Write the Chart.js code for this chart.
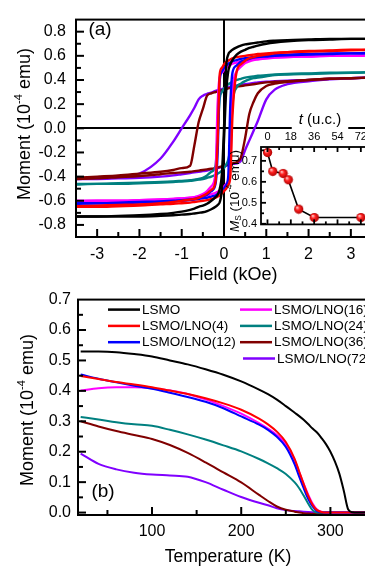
<!DOCTYPE html>
<html>
<head>
<meta charset="utf-8">
<script src="https://cdn.jsdelivr.net/npm/chart.js@4.4.0/dist/chart.umd.min.js"></script>
<style>
  html, body { margin: 0; padding: 0; background: #fff; overflow: hidden; }
  #wrap { position: relative; width: 365px; height: 567px; overflow: hidden; background: #fff; }
  canvas { position: absolute; }
  #chartA { left: 0; top: 0; }
  #chartB { left: 0; top: 283px; }
  #inset { left: 225px; top: 105px; }
</style>
</head>
<body>
<div id="wrap">
  <canvas id="chartA" width="380" height="285"></canvas>
  <canvas id="chartB" width="385" height="284"></canvas>
  <canvas id="inset" width="160" height="130"></canvas>
</div>
<script>
const FONT = '"Liberation Sans", Arial, sans-serif';

const sampleNames = ['LSMO', 'LSMO/LNO(4)', 'LSMO/LNO(12)', 'LSMO/LNO(16)', 'LSMO/LNO(24)', 'LSMO/LNO(36)', 'LSMO/LNO(72)'];
const sampleColors = ['#000000', '#ff0000', '#0000ff', '#ff00ff', '#008080', '#800000', '#8000ff'];

// (a) hysteresis loops, field in kOe, moment in 10^-4 emu
const fieldKOe = [-3.5, -3, -2.5, -2, -1.5, -1.2, -1, -0.8, -0.7, -0.6,
  -0.5, -0.4, -0.3, -0.2, -0.15, -0.1, -0.05, 0,
  0.05, 0.1, 0.15, 0.2, 0.3, 0.4, 0.5, 0.6, 0.7, 0.8,
  1, 1.2, 1.5, 2, 2.5, 3, 3.5];

const lsmoDown = [-0.73, -0.73, -0.725, -0.72, -0.71, -0.70, -0.69, -0.675, -0.665, -0.65,
  -0.64, -0.625, -0.60, -0.57, -0.55, -0.50, -0.38, 0.0,
  0.50, 0.61, 0.635, 0.65, 0.67, 0.685, 0.695, 0.70, 0.705, 0.71,
  0.72, 0.725, 0.73, 0.735, 0.74, 0.74, 0.74];
const lsmoUp = [-0.73, -0.73, -0.73, -0.73, -0.725, -0.72, -0.715, -0.71, -0.705, -0.70,
  -0.695, -0.685, -0.67, -0.65, -0.635, -0.61, -0.50, -0.10,
  0.30, 0.47, 0.53, 0.565, 0.61, 0.635, 0.65, 0.665, 0.675, 0.685,
  0.70, 0.71, 0.72, 0.73, 0.735, 0.74, 0.74];

const lno4Down = [-0.645, -0.64, -0.635, -0.63, -0.62, -0.61, -0.60, -0.59, -0.585, -0.575,
  -0.56, -0.54, -0.51, -0.44, -0.10, 0.45, 0.50, 0.53,
  0.55, 0.56, 0.57, 0.58, 0.59, 0.595, 0.60, 0.605, 0.61, 0.615,
  0.62, 0.625, 0.63, 0.635, 0.64, 0.645, 0.65];
const lno4Up = [-0.65, -0.65, -0.645, -0.64, -0.63, -0.625, -0.62, -0.615, -0.61, -0.605,
  -0.60, -0.595, -0.585, -0.575, -0.565, -0.555, -0.54, -0.52,
  -0.50, -0.47, -0.40, 0.10, 0.47, 0.53, 0.56, 0.58, 0.59, 0.60,
  0.61, 0.62, 0.63, 0.64, 0.645, 0.65, 0.65];

const lno12Down = [-0.62, -0.62, -0.615, -0.61, -0.605, -0.60, -0.595, -0.59, -0.585, -0.575,
  -0.565, -0.55, -0.52, -0.46, -0.20, 0.40, 0.47, 0.50,
  0.52, 0.535, 0.545, 0.555, 0.565, 0.575, 0.58, 0.585, 0.59, 0.595,
  0.60, 0.605, 0.61, 0.615, 0.62, 0.62, 0.625];
const lno12Up = [-0.625, -0.62, -0.62, -0.615, -0.61, -0.605, -0.60, -0.595, -0.59, -0.585,
  -0.58, -0.575, -0.565, -0.555, -0.545, -0.535, -0.52, -0.50,
  -0.47, -0.40, 0.20, 0.46, 0.52, 0.55, 0.565, 0.575, 0.585, 0.59,
  0.595, 0.60, 0.605, 0.61, 0.615, 0.62, 0.62];

const lno16Down = [-0.60, -0.60, -0.60, -0.595, -0.59, -0.585, -0.58, -0.575, -0.57, -0.56,
  -0.545, -0.52, -0.48, -0.37, 0.20, 0.43, 0.46, 0.48,
  0.50, 0.515, 0.525, 0.535, 0.545, 0.555, 0.56, 0.565, 0.57, 0.575,
  0.58, 0.585, 0.59, 0.595, 0.60, 0.60, 0.605];
const lno16Up = [-0.605, -0.60, -0.60, -0.595, -0.59, -0.585, -0.58, -0.575, -0.57, -0.565,
  -0.56, -0.555, -0.545, -0.535, -0.525, -0.515, -0.50, -0.48,
  -0.46, -0.43, -0.30, 0.30, 0.47, 0.51, 0.54, 0.555, 0.565, 0.57,
  0.58, 0.585, 0.59, 0.595, 0.60, 0.60, 0.605];

const lno24Down = [-0.46, -0.46, -0.455, -0.45, -0.445, -0.44, -0.435, -0.43, -0.425, -0.42,
  -0.41, -0.39, -0.36, -0.31, -0.05, 0.25, 0.30, 0.33,
  0.35, 0.365, 0.375, 0.385, 0.40, 0.41, 0.42, 0.425, 0.43, 0.435,
  0.44, 0.445, 0.45, 0.455, 0.46, 0.46, 0.465];
const lno24Up = [-0.465, -0.46, -0.46, -0.455, -0.45, -0.445, -0.44, -0.435, -0.43, -0.425,
  -0.42, -0.41, -0.40, -0.385, -0.375, -0.365, -0.35, -0.33,
  -0.30, -0.26, -0.15, 0.20, 0.34, 0.37, 0.39, 0.405, 0.415, 0.42,
  0.43, 0.44, 0.445, 0.45, 0.455, 0.46, 0.465];

const lno36Down = [-0.41, -0.40, -0.39, -0.375, -0.36, -0.345, -0.33, -0.31, -0.14, 0.05,
  0.16, 0.27, 0.29, 0.30, 0.305, 0.31, 0.315, 0.32,
  0.325, 0.33, 0.335, 0.34, 0.345, 0.35, 0.355, 0.36, 0.365, 0.37,
  0.38, 0.385, 0.39, 0.40, 0.41, 0.415, 0.42];
const lno36Up = [-0.42, -0.415, -0.405, -0.395, -0.38, -0.37, -0.365, -0.36, -0.355, -0.35,
  -0.345, -0.34, -0.335, -0.33, -0.325, -0.32, -0.315, -0.31,
  -0.305, -0.30, -0.295, -0.29, -0.28, -0.24, -0.08, 0.12, 0.22, 0.29,
  0.35, 0.37, 0.385, 0.40, 0.41, 0.415, 0.42];

const lno72Down = [-0.42, -0.415, -0.405, -0.375, -0.25, -0.11, 0.0, 0.11, 0.17, 0.24,
  0.27, 0.285, 0.295, 0.31, 0.315, 0.32, 0.325, 0.33,
  0.335, 0.34, 0.345, 0.35, 0.355, 0.36, 0.365, 0.37, 0.375, 0.38,
  0.385, 0.39, 0.395, 0.40, 0.41, 0.415, 0.42];
const lno72Up = [-0.42, -0.42, -0.415, -0.41, -0.40, -0.39, -0.38, -0.37, -0.365, -0.36,
  -0.355, -0.35, -0.34, -0.335, -0.33, -0.325, -0.32, -0.315,
  -0.31, -0.305, -0.30, -0.295, -0.29, -0.27, -0.18, -0.10, -0.02, 0.06,
  0.24, 0.32, 0.365, 0.39, 0.405, 0.415, 0.42];

const loopDown = [lsmoDown, lno4Down, lno12Down, lno16Down, lno24Down, lno36Down, lno72Down];
const loopUp = [lsmoUp, lno4Up, lno12Up, lno16Up, lno24Up, lno36Up, lno72Up];

const fieldTicks = [-3, -2, -1, 0, 1, 2, 3];
const fieldMinor = [-2.5, -1.5, -0.5, 0.5, 1.5, 2.5];
const momentTicksA = [-0.8, -0.6, -0.4, -0.2, 0, 0.2, 0.4, 0.6, 0.8];
const momentMinorA = [-0.7, -0.5, -0.3, -0.1, 0.1, 0.3, 0.5, 0.7];

// inset: saturation moment vs LNO thickness
const thicknessUC = [0, 4, 12, 16, 24, 36, 72];
const satMoment = [0.74, 0.65, 0.64, 0.61, 0.47, 0.43, 0.43];
const thickTicks = [0, 18, 36, 54, 72];
const thickMinor = [9, 27, 45, 63, 81];
const msTicks = [0.4, 0.5, 0.6, 0.7];
const msMinor = [0.45, 0.55, 0.65, 0.75];

// (b) moment vs temperature
const tempK = [20, 40, 60, 80, 100, 120, 140, 160, 180, 200,
  220, 230, 240, 250, 260, 265, 270, 275, 280, 285,
  290, 295, 300, 305, 310, 315, 320, 325, 330, 340, 350];
const mtLsmo = [0.529, 0.529, 0.527, 0.521, 0.513, 0.500, 0.487, 0.471, 0.453, 0.431,
  0.404, 0.389, 0.371, 0.350, 0.328, 0.317, 0.305, 0.291, 0.276, 0.263,
  0.245, 0.225, 0.200, 0.168, 0.128, 0.072, 0.010, 0.001, 0, 0, 0];
const mtLno4 = [0.449, 0.439, 0.429, 0.421, 0.412, 0.401, 0.390, 0.376, 0.359, 0.338,
  0.309, 0.290, 0.266, 0.232, 0.176, 0.135, 0.094, 0.056, 0.026, 0.008,
  0.002, 0, 0, 0, 0, 0, 0, 0, 0, 0, 0];
const mtLno12 = [0.454, 0.440, 0.428, 0.417, 0.407, 0.394, 0.380, 0.364, 0.343, 0.316,
  0.289, 0.272, 0.249, 0.216, 0.158, 0.118, 0.080, 0.045, 0.020, 0.005,
  0.001, 0, 0, 0, 0, 0, 0, 0, 0, 0, 0];
const mtLno16 = [0.401, 0.409, 0.412, 0.412, 0.409, 0.401, 0.390, 0.372, 0.350, 0.325,
  0.294, 0.276, 0.255, 0.226, 0.172, 0.133, 0.095, 0.060, 0.030, 0.010,
  0.003, 0, 0, 0, 0, 0, 0, 0, 0, 0, 0];
const mtLno24 = [0.314, 0.306, 0.297, 0.290, 0.285, 0.272, 0.257, 0.240, 0.221, 0.201,
  0.176, 0.162, 0.146, 0.127, 0.099, 0.080, 0.056, 0.030, 0.008, 0,
  0, 0, 0, 0, 0, 0, 0, 0, 0, 0, 0];
const mtLno36 = [0.300, 0.283, 0.268, 0.255, 0.242, 0.222, 0.196, 0.165, 0.132, 0.099,
  0.058, 0.038, 0.020, 0.009, 0.003, 0, -0.002, -0.003, -0.004, -0.004,
  -0.004, -0.004, -0.004, null, null, null, null, null, null, null, null];
const mtLno72 = [0.194, 0.160, 0.142, 0.131, 0.125, 0.122, 0.118, 0.100, 0.075, 0.051,
  0.032, 0.024, 0.014, 0.008, 0.005, 0.004, 0.003, 0.002, 0.001, 0,
  0, 0, 0, 0, 0, 0, 0, 0, 0, 0, 0];
const mtSeries = [mtLsmo, mtLno4, mtLno12, mtLno16, mtLno24, mtLno36, mtLno72];

const tempTicks = [100, 200, 300];
const tempMinor = [50, 150, 250];
const momentTicksB = [0, 0.1, 0.2, 0.3, 0.4, 0.5, 0.6, 0.7];
const momentMinorB = [0.05, 0.15, 0.25, 0.35, 0.45, 0.55, 0.65];

// ---------- helpers ----------
function drawRuns(ctx, runs, x, y, size, rotate) {
  const fontOf = (r) => (r.italic ? 'italic ' : '') + ((r.sup || r.sub) ? size * 0.62 : size) + 'px ' + FONT;
  ctx.save();
  ctx.translate(x, y);
  if (rotate) ctx.rotate(-Math.PI / 2);
  ctx.fillStyle = '#000';
  ctx.textBaseline = 'middle';
  ctx.textAlign = 'left';
  let w = 0;
  runs.forEach((r) => { ctx.font = fontOf(r); w += ctx.measureText(r.t).width; });
  let cx = -w / 2;
  runs.forEach((r) => {
    ctx.font = fontOf(r);
    const dy = r.sup ? -size * 0.36 : r.sub ? size * 0.28 : 0;
    ctx.fillText(r.t, cx, dy);
    cx += ctx.measureText(r.t).width;
  });
  ctx.restore();
  return w;
}

// inward ticks and the frame round the plot area
const frameTicks = {
  id: 'frameTicks',
  afterDatasetsDraw(chart, args, o) {
    const { ctx, chartArea: a, scales } = chart;
    ctx.save();
    ctx.strokeStyle = '#000';
    ctx.lineWidth = o.lineWidth;
    const seg = (x1, y1, x2, y2) => { ctx.beginPath(); ctx.moveTo(x1, y1); ctx.lineTo(x2, y2); ctx.stroke(); };
    [[o.xMajor, o.majorLen], [o.xMinor, o.minorLen]].forEach(([vals, len]) => vals.forEach((v) => {
      const p = scales.x.getPixelForValue(v);
      if (p <= a.left || p >= a.right) return;
      seg(p, a.bottom, p, a.bottom - len);
      if (o.mirror) seg(p, a.top, p, a.top + len);
    }));
    [[o.yMajor, o.majorLen], [o.yMinor, o.minorLen]].forEach(([vals, len]) => vals.forEach((v) => {
      const p = scales.y.getPixelForValue(v);
      if (p <= a.top || p >= a.bottom) return;
      seg(a.left, p, a.left + len, p);
      if (o.mirror) seg(a.right, p, a.right - len, p);
    }));
    ctx.strokeRect(a.left, a.top, a.right - a.left, a.bottom - a.top);
    ctx.restore();
  }
};

// axis titles and panel letters
const richText = {
  id: 'richText',
  afterDraw(chart, args, o) {
    o.items.forEach((it) => drawRuns(chart.ctx, it.runs, it.x, it.y, it.size, it.rotate));
  }
};

const fixedTicks = (vals) => (scale) => { scale.ticks = vals.map((v) => ({ value: v })); };
const zeroOnly = (c) => (c.tick && Math.abs(c.tick.value) < 1e-9 ? '#000' : 'rgba(0,0,0,0)');
const momentTitle = [{ t: 'Moment (10' }, { t: '-4', sup: true }, { t: ' emu)' }];

Chart.defaults.font.family = FONT;
Chart.defaults.color = '#000';

// ---------- panel (a) ----------
const loopSets = [];
sampleNames.forEach((name, i) => {
  [loopDown[i], loopUp[i]].forEach((branch) => {
    loopSets.push({
      label: name,
      data: fieldKOe.map((h, k) => ({ x: h, y: branch[k] })),
      showLine: true,
      borderColor: sampleColors[i],
      borderWidth: 2.4,
      pointRadius: 0,
      cubicInterpolationMode: 'monotone'
    });
  });
});

new Chart('chartA', {
  type: 'scatter',
  data: { datasets: loopSets },
  plugins: [frameTicks, richText],
  options: {
    responsive: false,
    animation: false,
    layout: { autoPadding: false, padding: { top: 15, right: 8, left: 0, bottom: 0 } },
    scales: {
      x: {
        type: 'linear', min: -3.5, max: 3.5,
        afterBuildTicks: fixedTicks(fieldTicks),
        afterFit: (s) => { s.height = 48; },
        border: { display: false },
        grid: { drawTicks: false, color: zeroOnly, lineWidth: 2 },
        ticks: { font: { size: 16 }, padding: 8, callback: (v) => String(v) }
      },
      y: {
        min: -0.9, max: 0.9,
        afterBuildTicks: fixedTicks(momentTicksA),
        afterFit: (s) => { s.width = 76; },
        border: { display: false },
        grid: { drawTicks: false, color: zeroOnly, lineWidth: 2 },
        ticks: { font: { size: 16 }, padding: 10, callback: (v) => v.toFixed(1) }
      }
    },
    plugins: {
      legend: { display: false },
      tooltip: { enabled: false },
      frameTicks: { lineWidth: 2, majorLen: 8, minorLen: 5, mirror: false,
        xMajor: fieldTicks, xMinor: fieldMinor, yMajor: momentTicksA, yMinor: momentMinorA },
      richText: { items: [
        { runs: momentTitle, x: 25, y: 124, size: 18, rotate: true },
        { runs: [{ t: 'Field (kOe)' }], x: 233, y: 275, size: 18 },
        { runs: [{ t: '(a)' }], x: 100, y: 30, size: 19 }
      ] }
    }
  }
});

// ---------- inset ----------
function ballSprite(r) {
  const c = document.createElement('canvas');
  c.width = c.height = 2 * r + 2;
  const g = c.getContext('2d');
  const m = r + 1;
  const grad = g.createRadialGradient(m - r * 0.35, m - r * 0.4, r * 0.1, m, m, r);
  grad.addColorStop(0, '#ffc0c0');
  grad.addColorStop(0.4, '#ff2222');
  grad.addColorStop(1, '#b00000');
  g.fillStyle = grad;
  g.beginPath();
  g.arc(m, m, r, 0, Math.PI * 2);
  g.fill();
  return c;
}

const insetBack = {
  id: 'insetBack',
  beforeDatasetsDraw(chart, args, o) {
    const { ctx, chartArea: a } = chart;
    ctx.save();
    ctx.fillStyle = '#fff';
    ctx.fillRect(a.left, a.top, a.right - a.left, a.bottom - a.top);
    ctx.font = 'italic ' + o.size + 'px ' + FONT;
    let w = ctx.measureText('t').width;
    ctx.font = o.size + 'px ' + FONT;
    w += ctx.measureText(' (u.c.)').width;
    ctx.fillRect(o.x - w / 2 - 7, o.y - 9, w + 14, 18);
    ctx.restore();
  }
};

new Chart('inset', {
  type: 'scatter',
  data: {
    datasets: [{
      data: thicknessUC.map((t, i) => ({ x: t, y: satMoment[i] })),
      showLine: true,
      borderColor: '#000',
      borderWidth: 1.6,
      pointStyle: ballSprite(4.6),
      pointRadius: 4.6
    }]
  },
  plugins: [insetBack, frameTicks, richText],
  options: {
    responsive: false,
    animation: false,
    layout: { autoPadding: false, padding: { top: 0, right: 6, left: 0, bottom: 7 } },
    scales: {
      x: {
        type: 'linear', position: 'top', min: -5, max: 86,
        afterBuildTicks: fixedTicks(thickTicks),
        afterFit: (s) => { s.height = 42; },
        border: { display: false },
        grid: { display: false, drawTicks: false },
        ticks: { font: { size: 11 }, padding: 3, maxRotation: 0, autoSkip: false }
      },
      y: {
        min: 0.397, max: 0.766,
        afterBuildTicks: fixedTicks(msTicks),
        afterFit: (s) => { s.width = 36; },
        border: { display: false },
        grid: { display: false, drawTicks: false },
        ticks: { font: { size: 11 }, padding: 4, callback: (v) => v.toFixed(1) }
      }
    },
    plugins: {
      legend: { display: false },
      tooltip: { enabled: false },
      insetBack: { x: 95, y: 15, size: 15 },
      frameTicks: { lineWidth: 1.8, majorLen: 5, minorLen: 3, mirror: true,
        xMajor: thickTicks, xMinor: thickMinor, yMajor: msTicks, yMinor: msMinor },
      richText: { items: [
        { runs: [{ t: 't', italic: true }, { t: ' (u.c.)' }], x: 95, y: 15, size: 15 },
        { runs: [{ t: 'M', italic: true }, { t: 'S', sub: true }, { t: ' (10' }, { t: '-4', sup: true }, { t: ' emu)' }],
          x: 10, y: 86, size: 13.5, rotate: true }
      ] }
    }
  }
});

// ---------- panel (b) ----------
const legendCols = {
  id: 'legendCols',
  afterDatasetsDraw(chart, args, o) {
    const { ctx, chartArea: a } = chart;
    ctx.save();
    ctx.font = o.size + 'px ' + FONT;
    ctx.textBaseline = 'middle';
    ctx.fillStyle = '#000';
    chart.data.datasets.forEach((ds, i) => {
      const col = i < 3 ? 0 : 1;
      const row = i < 3 ? i : i - 3;
      const x0 = a.left + o.colX[col] + (i === 6 ? 3 : 0);
      const y = a.top + o.rowY0 + row * o.rowStep;
      ctx.strokeStyle = ds.borderColor;
      ctx.lineWidth = 2.5;
      ctx.beginPath();
      ctx.moveTo(x0, y);
      ctx.lineTo(x0 + o.lineLen, y);
      ctx.stroke();
      ctx.fillText(ds.label, x0 + o.lineLen + 2, y + 0.5);
    });
    ctx.restore();
  }
};

new Chart('chartB', {
  type: 'scatter',
  data: {
    datasets: sampleNames.map((name, i) => ({
      label: name,
      data: tempK.map((t, k) => ({ x: t, y: mtSeries[i][k] })).filter((p) => p.y !== null),
      showLine: true,
      borderColor: sampleColors[i],
      borderWidth: 2,
      pointRadius: 0,
      cubicInterpolationMode: 'monotone'
    }))
  },
  plugins: [legendCols, frameTicks, richText],
  options: {
    responsive: false,
    animation: false,
    layout: { autoPadding: false, padding: { top: 10, right: 10, left: 0, bottom: 0 } },
    scales: {
      x: {
        type: 'linear', min: 17, max: 350,
        afterBuildTicks: fixedTicks(tempTicks),
        afterFit: (s) => { s.height = 52; },
        border: { display: false },
        grid: { display: false, drawTicks: false },
        ticks: { font: { size: 16 }, padding: 7 }
      },
      y: {
        min: -0.008, max: 0.7,
        afterBuildTicks: fixedTicks(momentTicksB),
        afterFit: (s) => { s.width = 78; },
        border: { display: false },
        grid: { display: false, drawTicks: false },
        ticks: { font: { size: 16 }, padding: 7, callback: (v) => v.toFixed(1) }
      }
    },
    plugins: {
      legend: { display: false },
      tooltip: { enabled: false },
      legendCols: { size: 13.5, colX: [30, 162], lineLen: 32, rowY0: 10, rowStep: 16.3 },
      frameTicks: { lineWidth: 2, majorLen: 8, minorLen: 5, mirror: false,
        xMajor: tempTicks, xMinor: tempMinor, yMajor: momentTicksB, yMinor: momentMinorB },
      richText: { items: [
        { runs: momentTitle, x: 28, y: 127, size: 18, rotate: true },
        { runs: [{ t: 'Temperature (K)' }], x: 228, y: 274, size: 17.5 },
        { runs: [{ t: '(b)' }], x: 103, y: 209, size: 19 }
      ] }
    }
  }
});
</script>
</body>
</html>
